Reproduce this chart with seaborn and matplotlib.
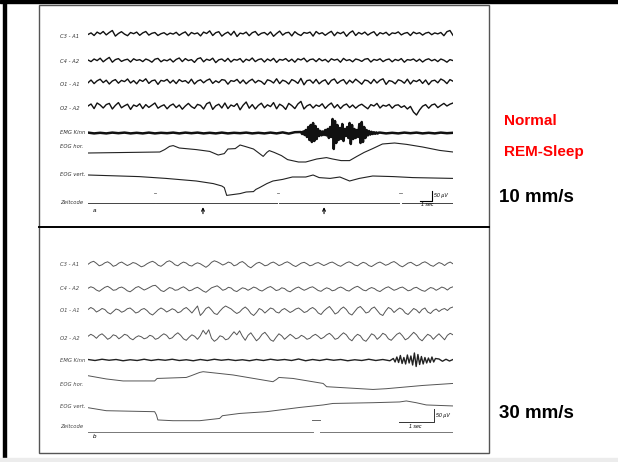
import numpy as np
import pandas as pd
import seaborn as sns
import matplotlib.pyplot as plt
from matplotlib.patches import Rectangle

plt.rcParams['font.family'] = ['Liberation Sans', 'DejaVu Sans']

# ---------------- data: panel a (10 mm/s, 30 s), amplitudes in uV ----------------
dur_a = 30.0
c3_a = [0, 8, -5, 12, 3, 15, -2, 10, 20, -8, 5, 14, 2, -6, 10, 4, 12, -4, 8, 15,
        -3, 6, 10, -5, 4, 9, -2, 7, 2, 11, -4, 6, 13, -6, 10, 3, 8, -7, 12, 5,
        18, -5, 9, 14, -8, 4, 12, -3, 16, -10, 7, 3, 12, -6, 9, 15, -4, 6, 10, -2,
        13, -9, 5, 17, -3, 8, 11, -7, 14, 2, -5, 10, 6, 12, -8, 15, 3, 9, -4, 7,
        16, -6, 11, 4, 13, -9, 8, 18, -5, 10, 2, 12, -3, 7, 14, -6, 9, 3, 11, -4,
        8, 5, 13, -2, 6, 10, -5, 12, 4, 9, -3, 7, 11, -1, 8, 3, 10, -6, 14, 20, -4]
c4_a = [5, -3, 10, 2, 14, -4, 8, 18, -6, 7, 12, -2, 5, 9, -5, 11, 3, 7, -3, 10,
        4, -6, 9, 13, -4, 6, 1, 10, -5, 8, 15, -3, 12, 2, 7, -7, 11, 16, -4, 9,
        3, 14, -8, 6, 10, -2, 13, -5, 8, 4, 12, -6, 9, 2, 15, -3, 7, 11, -5, 10,
        1, 13, -7, 8, 4, 12, -2, 9, -6, 11, 5, 14, -4, 7, 10, -3, 12, 1, 8, -5,
        11, 4, 9, -6, 13, 2, 7, -4, 10, 6, -2, 9, 12, -5, 8, 3, 11, -3, 6, 10,
        -4, 8, 2, 12, -6, 7, 4, 10, -2, 9, -5, 6, 11, 1, 8, -3, 10, 4, -6, 7, 2]
o1_a = [-4, 10, -8, 6, 14, -3, 9, -10, 5, 12, -6, 8, 2, 15, -5, 7, -9, 11, 3, 16,
        -7, 6, 10, -12, 8, 4, 13, -5, 9, -8, 12, 2, 7, -6, 14, -10, 5, 11, -4, 8,
        15, -7, 6, -3, 12, 9, -11, 7, 3, 13, -6, 10, -9, 5, 14, -4, 8, 2, -12, 11,
        6, -5, 16, -8, 9, 3, -10, 12, 5, -7, 18, -14, 7, 10, -6, 13, -9, 4, 11, -12,
        8, 15, -7, 5, 12, -10, 9, -4, 14, 2, -11, 10, 6, -8, 13, -5, 9, 16, -12, 7,
        3, -9, 11, 6, -6, 14, -10, 8, 2, 12, -7, 10, -13, 5, 9, -4, 15, 7, -8, 12, 4]
o2_a = [5, 15, -8, 20, 10, -5, 12, 18, -10, 8, 22, -4, 6, 14, -12, 10, 3, 16, -8, 12,
        -2, 9, 20, -6, 4, 11, -9, 7, 15, -3, 10, -11, 5, 18, 2, -7, 13, 8, -10, 16,
        24, -12, 6, 14, -5, 20, -8, 10, 3, 17, -14, 9, 25, -6, 12, -10, 8, 19, -4, 11,
        2, 22, -9, 14, 5, -12, 18, 7, -8, 15, 28, -10, 6, 13, -5, 10, 3, 16, -7, 9,
        20, -4, 12, -8, 8, 15, -3, 10, -6, 7, 14, 2, -9, 12, 5, 18, -5, 9, 4, 13,
        -6, 8, 11, -2, 6, -10, 3, -25, -40, -15, 4, 12, -6, 10, 15, -3, 8, 18, 5, 14, 20]
emg_a_pre = [2, -2, 1, -2, 2, -1, 2, -2, 1, -2, 2, -2, 1, -1, 2, -2, 2, -1,
             2, -2, 1, -2, 2, -2, 1, -1, 2, -2, 1, -2, 2, -2, 3, -3, 4]       # 0 .. 17 s
emg_a_burst = [5, -5, 8, -10, 15, -20, 30, -35, 40, -45,
               50, -40, 35, -30, 20, -15, 10, -12, 8, -10,
               15, -12, 20, -25, 30, -20, 70, -80, 60, -50,
               40, -35, 25, -30, 45, -40, 20, -15, 30, -25,
               50, -55, 40, -30, 20, -25, 15, -20, 45, -50,
               55, -45, 30, -25, 15, -12, 10, -8, 6, -5,
               4, -4, 3, -3, 2]                                                # 17.5 .. 23.9 s
emg_a_post = [2, -2, 1, -2, 2, -1, 2, -2, 1, -2, 2, -1, 1]                     # 24 .. 30 s
eog_h_a_t = [0, 5.9, 6.3, 6.7, 7.0, 7.5, 8.9, 10.0, 10.7, 11.2, 11.5, 12.1, 12.5, 12.9,
             13.6, 14.1, 14.4, 14.7, 14.9, 15.3, 15.9, 16.4, 17.3, 17.9, 18.8, 19.6,
             20.1, 20.8, 21.5, 22.1, 22.7, 23.4, 24.2, 25.2, 26.2, 27.5, 28.9, 30]
eog_h_a = [0, 5, 17, 33, 37, 25, 17, 8, -10, -3, 20, 22, 40, 33,
           20, -3, -17, 3, 12, 3, -13, -33, -45, -45, -30, -23,
           -30, -38, -38, -17, 3, 22, 45, 50, 43, 30, 13, 5]
eog_v_a_t = [0, 4.2, 6.4, 8.9, 10.3, 11.0, 11.2, 11.4, 12.5, 13.0, 13.6, 13.8, 14.1,
             14.7, 15.2, 16.0, 16.8, 17.9, 18.5, 19.0, 19.9, 20.7, 21.5, 22.3, 23.4,
             25.1, 26.7, 30]
eog_v_a = [0, -8, -17, -30, -43, -55, -63, -102, -93, -85, -83, -72, -63,
           -43, -30, -22, -10, -10, 0, -13, -17, -10, -30, -17, -5,
           -8, -13, -17]
zeit_a = [(0, 5.5), (5.6, 15.5), (15.7, 25.6), (25.8, 30)]
zeit_marks_a = [5.5, 15.6, 25.7]
arrows_a = [9.45, 19.4]

# ---------------- data: panel b (30 mm/s, 10.4 s) ----------------
dur_b = 10.4
c3_b = [0, 8, 12, 4, -6, -2, 6, 10, 3, -8, -4, 5, 9, 2, -5, 0, 7, 4, -3, -10,
        -6, 2, 8, 12, 6, -4, -8, 0, 10, 14, 8, -2, -6, 3, 9, 5, -4, -7, 1, 6,
        2, -5, -12, -4, 8, 14, 10, 4, -3, 2, 9, 5, -6, -2, 7, 11, 3, -8, -14, -5,
        4, 8, 2, -6, -3, 5, 9, 3, -5, -1, 6, 10, 4, -4, -9, -2, 5, 8, 2, -6,
        -3, 4, 7, 1, -5, 0, 6, 9, 3, -4, -8, -1, 6, 10, 5, -3, -6, 2, 8, 4,
        -5, -9, -2, 5, 9, 3, -4, 0, 7, 11, 4, -5, -10, -3, 5, 8, 1, -6, -2, 6,
        10, 4, -4, -8, 0, 7, 3, -5, 4, 9, 2]
c4_b = [4, 10, 6, -3, -8, 0, 8, 12, 5, -4, -2, 6, 9, 3, -6, -10, -2, 7, 11, 4,
        -3, 2, 8, 14, 16, 6, -5, -9, -1, 7, 4, -4, -2, 5, 10, 3, -6, -3, 4, 8,
        1, -7, -12, -3, 6, 10, 14, 6, -4, 0, 8, 5, -5, -9, -1, 6, 3, -4, 2, 9,
        5, -3, -7, 0, 7, 11, 4, -5, -2, 6, 3, -6, -10, -2, 5, 9, 2, -4, 1, 7,
        10, 3, -5, -8, 0, 6, 2, -6, -3, 5, 9, 4, -4, -7, 1, 8, 12, 5, -3, -6,
        2, 7, 3, -5, -9, -1, 6, 10, 3, -4, 0, 6, 9, 2, -6, -3, 5, 8, 1, -5,
        -8, 0, 7, 4, -4, 2, 9, 5, -3, 6, 10]
o1_b = [6, 14, 8, -4, 2, 10, 6, -6, -12, -2, 8, 4, -5, 0, 9, 12, 3, -8, -4, 6,
        10, 2, -10, -16, -6, 5, 12, 6, -4, 2, 9, 4, -7, -3, 8, 14, 4, -8, 6, 20,
        -18, -6, 10, 16, 4, -10, -14, 0, 12, 20, 14, 8, -2, -10, -4, 8, 16, 6, -10, -18,
        -6, 10, 4, -8, 2, 12, 8, -4, -8, 4, 10, 2, -6, 0, 8, 12, 4, -6, -2, 8,
        14, 6, -8, -14, 0, 10, 18, 4, -12, -6, 8, 16, 6, -10, -16, -2, 12, 18, 6, -8,
        -4, 10, 16, 2, -12, -18, 0, 14, 8, -6, 4, 12, 6, -8, -14, -2, 10, 4, -8, 6,
        12, -4, -10, 2, 8, -2, 6, 10, 2, 12, 16]
o2_b = [4, 12, 6, -4, 8, 14, 4, -8, -2, 10, 6, -6, 2, 12, 8, -4, -10, 0, 6, 2,
        -6, -2, 8, 4, -8, -4, 6, 14, 8, -6, -2, 10, 18, 8, -6, -12, 0, 10, 4, -8,
        6, 28, 12, 30, -4, -16, -8, 6, 2, -10, -6, 8, 22, 10, 26, 4, -12, 8, 18, 2,
        -14, -4, 12, 20, 6, -10, -16, 0, 14, 6, -8, 2, 12, 4, -6, -2, 8, 2, -8, -4,
        6, 12, 4, -6, 0, 10, 16, 6, -8, -4, 8, 18, 10, -6, -14, 2, 12, 6, -10, -16,
        -2, 14, 8, -8, 2, 16, 10, -6, -12, 0, 12, 18, 6, -10, -4, 8, 20, 10, -6, -14,
        0, 12, 6, -8, 4, 14, 2, -10, 8, 16, 10]
emg_b_pre = [2, -2, 3, -1, 2, -3, 1, -2, 3, -2, 2, -1, 3, -2, 1, -3, 2, -2, 3, -1, 2, -2,
             1, -3, 2, -2, 3, -1, 2, -2, 4, -3, 2, -2, 3, -1, 2, -3, 1, -2, 3, -2, 2, -3]  # 0 .. 8.6 s
emg_b_burst = [6, -8, 12, -10, 18, -14, 10, -16, 20, -12, 16, -20, 28, -26, 22, -18,
               14, -16, 10, -12, 8, -10, 12, -8, 6]                                   # 8.7 .. 9.9 s
emg_b_post = [4, -5, 3, -4, 2]                                                        # 10 .. 10.4 s
eog_h_b_t = [0, 0.52, 1.0, 1.9, 1.97, 2.8, 2.94, 3.18, 3.28, 4.13, 5.27, 5.37, 5.44,
             5.84, 6.7, 6.8, 8.12, 8.5, 9.54, 10.4]
eog_h_b = [0, -13, -21, -21, -11, -7, 0, 13, 16, 3, -24, -15, -7,
           -11, -31, -44, -55, -52, -39, -31]
eog_v_b_t = [0, 0.52, 1.9, 1.95, 1.99, 2.42, 3.18, 3.75, 3.83, 4.32, 5.08, 6.03, 6.7,
             6.98, 8.12, 8.88, 9.07, 9.35, 9.64, 10.4]
eog_v_b = [0, -12, -16, -29, -49, -52, -52, -43, -32, -23, -16, 1, 11,
           17, 20, 23, 27, 20, 11, 7]
zeit_b = [(0, 6.4), (6.6, 10.4)]
zeit_marks_b = [6.5]

labels = ['C3 - A1', 'C4 - A2', 'O1 - A1', 'O2 - A2', 'EMG Kinn', 'EOG hor.', 'EOG vert.', 'Zeitcode']

# ---------------- layout (pixels) ----------------
W, H = 618, 462
base_a = [34.5, 61, 82, 107, 133, 153, 175, 202.5]
base_b = [264.3, 289.3, 311, 337.3, 360, 375.7, 407.7, 431.7]
label_y_a = [37, 61.5, 85, 108, 133, 147, 174, 202]
label_y_b = [264, 289, 311, 338, 360, 385, 406, 427]
x0, x1 = 88, 453

fig = plt.figure(figsize=(W / 100, H / 100), dpi=100)
bg = fig.add_axes([0, 0, 1, 1])
bg.set_xlim(0, W)
bg.set_ylim(H, 0)
bg.axis('off')
bg.add_patch(Rectangle((0, 0), W, 3, color='black'))
bg.add_patch(Rectangle((3, 0), 3, 458, color='black'))
bg.add_patch(Rectangle((0, 458), W, 4, color='#ececec'))
bg.add_patch(Rectangle((39, 5), 450, 448, fill=False, edgecolor='#555555', lw=1))
bg.plot([39, 489], [227, 227], color='black', lw=1.4)


def panel(ytop, ybot, dur, uv_px):
    ax = fig.add_axes([x0 / W, 1 - ybot / H, (x1 - x0) / W, (ybot - ytop) / H])
    ax.set_xlim(0, dur)
    ax.set_ylim(0, (ybot - ytop) * uv_px)
    ax.axis('off')
    return ax


def trace(ax, t, v, off, color, lw):
    df = pd.DataFrame({'t': t, 'v': np.asarray(v, float) + off})
    sns.lineplot(data=df, x='t', y='v', ax=ax, color=color, lw=lw, estimator=None, sort=False)


# panel a
uva = 5.0
ax_a = panel(20, 220, dur_a, uva)
off_a = [(220 - b) * uva for b in base_a]
for vals, off in zip([c3_a, c4_a, o1_a, o2_a], off_a[:4]):
    trace(ax_a, np.linspace(0, dur_a, len(vals)), vals, off, '#111111', 1.0)
emg_t = np.concatenate([np.linspace(0, 17, len(emg_a_pre)),
                        np.linspace(17.5, 23.9, len(emg_a_burst)),
                        np.linspace(24, 30, len(emg_a_post))])
trace(ax_a, emg_t, emg_a_pre + emg_a_burst + emg_a_post, off_a[4], '#111111', 1.8)
trace(ax_a, eog_h_a_t, eog_h_a, off_a[5], '#222222', 0.8)
trace(ax_a, eog_v_a_t, eog_v_a, off_a[6], '#222222', 0.8)
for s, e in zeit_a:
    trace(ax_a, [s, e], [0, 0], off_a[7], '#444444', 0.7)
for m in zeit_marks_a:
    trace(ax_a, [m - 0.1, m + 0.1], [50, 50], off_a[7], '#777777', 0.6)
for a in arrows_a:
    ax_a.annotate('', xy=(a, 78), xytext=(a, 18),
                  arrowprops=dict(arrowstyle='->', color='black', lw=0.8, mutation_scale=5))
ax_a.plot([27.3, 28.3, 28.3], [95, 95, 145], color='black', lw=0.8)
ax_a.text(28.45, 122, '50 µV', fontsize=3.8, style='italic', va='center')
ax_a.text(27.4, 88, '1 sec', fontsize=3.8, style='italic', va='top')

# panel b
uvb = 4.0
ax_b = panel(245, 445, dur_b, uvb)
off_b = [(445 - b) * uvb for b in base_b]
for vals, off in zip([c3_b, c4_b, o1_b, o2_b], off_b[:4]):
    trace(ax_b, np.linspace(0, dur_b, len(vals)), vals, off, '#555555', 0.7)
emg_t = np.concatenate([np.linspace(0, 8.6, len(emg_b_pre)),
                        np.linspace(8.7, 9.9, len(emg_b_burst)),
                        np.linspace(10, 10.4, len(emg_b_post))])
trace(ax_b, emg_t, emg_b_pre + emg_b_burst + emg_b_post, off_b[4], '#222222', 1.0)
trace(ax_b, eog_h_b_t, eog_h_b, off_b[5], '#555555', 0.7)
trace(ax_b, eog_v_b_t, eog_v_b, off_b[6], '#555555', 0.7)
for s, e in zeit_b:
    trace(ax_b, [s, e], [0, 0], off_b[7], '#777777', 0.7)
for m in zeit_marks_b:
    trace(ax_b, [m - 0.12, m + 0.12], [45, 45], off_b[7], '#666666', 0.7)
ax_b.plot([8.86, 9.86, 9.86], [93, 93, 143], color='#333333', lw=0.7)
ax_b.text(9.92, 118, '50 µV', fontsize=3.8, style='italic', va='center')
ax_b.text(9.15, 86, '1 sec', fontsize=3.8, style='italic', va='top')

# channel labels
for lab, y in zip(labels, label_y_a):
    bg.text(60, y, lab, fontsize=3.8, style='italic', color='#333333', va='center',
            family='DejaVu Sans')
for lab, y in zip(labels, label_y_b):
    bg.text(60, y, lab, fontsize=3.8, style='italic', color='#444444', va='center',
            family='DejaVu Sans')
bg.text(93, 211, 'a', fontsize=4.5, style='italic', va='center')
bg.text(93, 437, 'b', fontsize=4.5, style='italic', va='center')

# right-hand annotations
bg.text(504, 121, 'Normal', color='red', fontsize=11, fontweight='bold', va='center')
bg.text(504, 152, 'REM-Sleep', color='red', fontsize=11, fontweight='bold', va='center')
bg.text(499, 197, '10 mm/s', color='black', fontsize=13.5, fontweight='bold', va='center')
bg.text(499, 414, '30 mm/s', color='black', fontsize=13.5, fontweight='bold', va='center')

fig.savefig('out.png', dpi=100)
